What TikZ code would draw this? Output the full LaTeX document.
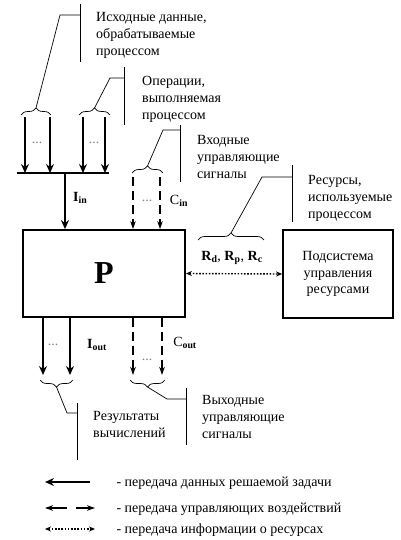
\documentclass[tikz,border=0pt]{standalone}
\usepackage{fontspec}
\setmainfont{Liberation Serif}
\usetikzlibrary{arrows.meta,decorations.pathreplacing,positioning}

\tikzset{
  data/.style={-{Stealth[length=9pt,width=8pt,inset=3pt]}, line width=1.8pt},
  ctrl/.style={-{Stealth[length=8pt,width=5.5pt]}, line width=1.8pt, dash pattern=on 9pt off 5pt},
  res/.style={{Stealth[length=6pt,width=5pt]}-{Stealth[length=6pt,width=5pt]}, line width=1.4pt, dash pattern=on 1.6pt off 1.6pt},
  note/.style={line width=0.7pt},
  brc/.style={note, decorate, decoration={brace, amplitude=7pt}},
  lbl/.style={anchor=north west, align=left, inner sep=0pt},
  dots/.style={text=gray},
}

\begin{document}
\begin{tikzpicture}[x=1pt, y=-1pt, every node/.style={font=\fontsize{14}{17}\selectfont}]
\useasboundingbox (0,0) rectangle (400,540);

\node[draw, line width=1.8pt, minimum width=162pt, minimum height=87pt] (P) at (104,273.5)
     {\fontsize{32}{34}\selectfont\bfseries P};
\node[draw, line width=1.8pt, minimum width=110pt, minimum height=88pt, align=center,
      font=\fontsize{14}{16.5}\selectfont] (RS) at (338,274) {Подсистема\\управления\\ресурсами};

% input data
\foreach \x in {25,50,83,105}
   \draw[data] (\x,117) -- (\x,173);
\node[dots] (din1) at (37,143) {...};
\node[dots] (din2) at (94,143) {...};
\draw[line width=2.4pt] (17,173) -- (109,173);
\coordinate (bus) at (65,173);
\draw[data] (bus) -- node[right=4pt, pos=0.45] (Iin) {\textbf{I}\textsubscript{\textbf{in}}} (bus |- P.north);

% input control
\foreach \x in {133,160}
   \draw[ctrl] (\x,177) -- (P.north -| \x,0);
\node[dots] (cin) at (147,201) {...};
\node (Cin) at (179,201) {C\textsubscript{\textbf{in}}};

% resources
\draw[res] (P.east) -- (RS.west);
\node (R) at (232,258) {\textbf{R}\textsubscript{\textbf{d}}, \textbf{R}\textsubscript{\textbf{p}}, \textbf{R}\textsubscript{\textbf{c}}};

% output
\foreach \x in {43,70}
   \draw[data] (P.south -| \x,0) -- (\x,375);
\foreach \x in {133,162}
   \draw[ctrl] (P.south -| \x,0) -- (\x,375);
\node[dots] (dout) at (53,345) {...};
\node[dots] (cout) at (147,360) {...};
\node (Iout) at (97,345) {\textbf{I}\textsubscript{\textbf{out}}};
\node (Cout) at (185,343) {C\textsubscript{\textbf{out}}};

% callouts
\draw[brc] (21,115) -- (51,115);
\draw[note] (36,108) -- (60,15) -- (80,15);
\draw[note] (80,4) -- (80,62);
\node[lbl] (t1) at (96,12.5) {Исходные данные,\\обрабатываемые\\процессом};

\draw[brc] (79,115) -- (110,115);
\draw[note] (94.5,108) -- (110,78) -- (124,78);
\draw[note] (124,67) -- (124,125);
\node[lbl] (t2) at (142,76.5) {Операции,\\выполняемая\\процессом};

\draw[brc] (132,173) -- (163,173);
\draw[note] (147.5,166) -- (163,130) -- (180,130);
\draw[note] (180,125) -- (180,182);
\node[lbl] (t3) at (197,135.5) {Входные\\управляющие\\сигналы};

\draw[brc] (198,240) -- (264,240);
\draw[note] (231,233) -- (262,177) -- (292,177);
\draw[note] (292,165) -- (292,222);
\node[lbl] (t4) at (308,175.5) {Ресурсы,\\используемые\\процессом};

\draw[brc] (73,380) -- (40,380);
\draw[note] (56.5,387) -- (67,413) -- (77,413);
\draw[note] (77,403) -- (77,460);
\node[lbl] (t5) at (93,411.5) {Результаты\\вычислений};

\draw[brc] (165,380) -- (130,380);
\draw[note] (147.5,387) -- (167,399) -- (186,399);
\draw[note] (186,388) -- (186,445);
\node[lbl] (t6) at (202,395.5) {Выходные\\управляющие\\сигналы};

% legend
\coordinate (l1a) at (90,482);
\coordinate (l1b) at (45,482);
\draw[data] (l1a) -- (l1b);
\node[anchor=base west] (k1) at (113,486.5) {- передача данных решаемой задачи};
\coordinate (l2a) at (45,508);
\coordinate (l2b) at (95,508);
\draw[ctrl, {Stealth[length=8pt,width=5.5pt]}-{Stealth[length=8pt,width=5.5pt]}, dash pattern=on 17pt off 9pt] (l2a) -- (l2b);
\node[anchor=base west] (k2) at (113,512) {- передача управляющих воздействий};
\coordinate (l3a) at (45,529);
\coordinate (l3b) at (95,529);
\draw[res] (l3a) -- (l3b);
\node[anchor=base west] (k3) at (113,533) {- передача информации о ресурсах};

\end{tikzpicture}
\end{document}
